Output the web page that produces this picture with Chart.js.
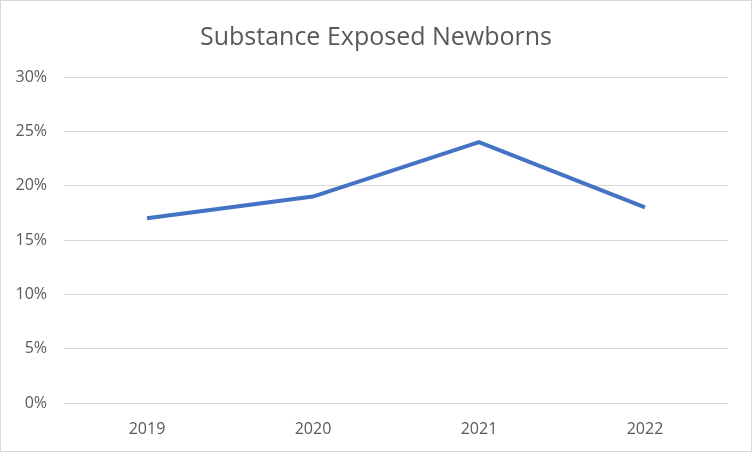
<!DOCTYPE html>
<html>
<head>
<meta charset="utf-8">
<script src="https://cdn.jsdelivr.net/npm/chart.js@4"></script>
<style>
  html, body { margin: 0; padding: 0; background: #fff; }
  #wrap { width: 752px; height: 452px; position: relative; }
</style>
</head>
<body>
<div id="wrap"><canvas id="miGrafico" width="752" height="452"></canvas></div>
<script>
const years = ["2019", "2020", "2021", "2022"];
const exposedPct = [17, 19, 24, 18];
const yTicks = [0, 5, 10, 15, 20, 25, 30];

const textColor = "#595959";
const fontName = "'Open Sans', 'Noto Sans', sans-serif";

// grey frame round the whole picture
const framePlugin = {
    id: "frame",
    afterDraw(chart) {
        const c = chart.ctx;
        c.save();
        c.strokeStyle = "#d9d9d9";
        c.lineWidth = 1;
        c.strokeRect(0.5, 0.5, chart.width - 1, chart.height - 1);
        c.restore();
    }
};

const ctx = document.getElementById("miGrafico").getContext("2d");
new Chart(ctx, {
    type: "line",
    data: {
        labels: years,
        datasets: [{
            label: "Substance Exposed Newborns",
            data: exposedPct,
            borderColor: "#4472C4",
            borderWidth: 4,
            pointRadius: 0,
            tension: 0,
            fill: false
        }]
    },
    options: {
        responsive: false,
        animation: false,
        layout: { padding: 0 },
        plugins: {
            legend: { display: false },
            tooltip: { enabled: false },
            title: {
                display: true,
                text: "Substance Exposed Newborns",
                color: textColor,
                font: { family: fontName, size: 25, weight: "normal" },
                padding: { top: 23, bottom: 24 }
            }
        },
        scales: {
            x: {
                offset: true,
                afterFit(scale) { scale.height = 49; },
                grid: { display: false, drawTicks: false },
                border: { display: false },
                ticks: {
                    color: textColor,
                    padding: 17,
                    font: { family: fontName, size: 16 }
                }
            },
            y: {
                min: 0,
                max: 30,
                afterFit(scale) { scale.width = 64; },
                afterBuildTicks(scale) {
                    scale.ticks = yTicks.map(v => ({ value: v }));
                },
                grid: { color: "#d9d9d9", lineWidth: 1, drawTicks: false },
                border: { display: false },
                ticks: {
                    color: textColor,
                    padding: 17,
                    font: { family: fontName, size: 16 },
                    callback: v => v + "%"
                }
            },
            // empty right-hand strip, keeps the title centred on the canvas
            yRight: {
                position: "right",
                afterFit(scale) { scale.width = 24; },
                grid: { display: false, drawTicks: false },
                border: { display: false },
                ticks: { display: false }
            }
        }
    },
    plugins: [framePlugin]
});
</script>
</body>
</html>
